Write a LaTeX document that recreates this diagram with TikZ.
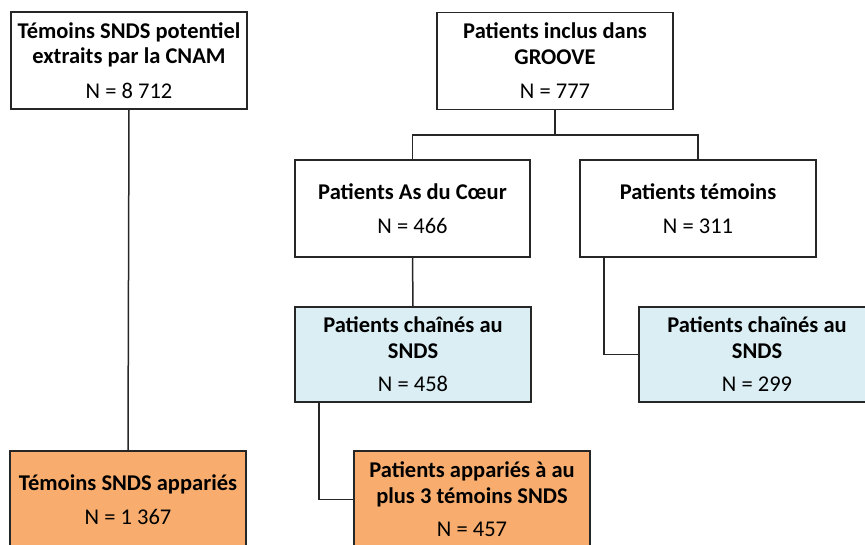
\documentclass[tikz,border=0pt]{standalone}
\usepackage{fontspec}
\setmainfont{Carlito}
\definecolor{lightblue}{HTML}{DBEEF4}
\definecolor{orangefill}{HTML}{F8AD6E}
\definecolor{edge}{HTML}{262626}
\begin{document}
\begin{tikzpicture}[x=1pt,y=-1pt,
  box/.style={draw=edge,line width=1.5pt,rectangle,minimum width=236pt,minimum height=97pt,inner sep=0pt,align=center,font=\fontsize{22.5}{25.5}\selectfont},
  bluebox/.style={box,fill=lightblue,minimum height=95pt},
  orangebox/.style={box,fill=orangefill},
  link/.style={draw=edge,line width=1.5pt}]
\useasboundingbox (0,0) rectangle (865,544);
\node[box] (A) at (129,60.5) {\textbf{Témoins SNDS potentiel}\\\textbf{extraits par la CNAM}\\[9pt]N = 8 712};
\node[box] (B) at (555,61) {\textbf{Patients inclus dans}\\\textbf{GROOVE}\\[9pt]N = 777};
\node[box,minimum width=235pt] (C) at (412.5,208.5) {\textbf{Patients As du Cœur}\\[9pt]N = 466};
\node[box] (D) at (698,208.5) {\textbf{Patients témoins}\\[9pt]N = 311};
\node[bluebox] (E) at (413,354.5) {\textbf{Patients chaînés au}\\\textbf{SNDS}\\[8pt]N = 458};
\node[bluebox] (G) at (757,354.5) {\textbf{Patients chaînés au}\\\textbf{SNDS}\\[8pt]N = 299};
\node[orangebox] (F) at (128,499.5) {\textbf{Témoins SNDS appariés}\\[8pt]N = 1 367};
\node[orangebox] (H) at (472,499.5) {\textbf{Patients appariés à au}\\\textbf{plus 3 témoins SNDS}\\[8pt]N = 457};
\coordinate (bus) at (0,135);
\draw[link] (A.south) -- (F.north);
\draw[link] (B.south) -- (B.south |- bus);
\draw[link] (C.north) -- (C.north |- bus) -- (D.north |- bus) -- (D.north);
\draw[link] (C.south) -- (E.north);
\draw[link] ([xshift=-94pt]E.south) |- (H.west);
\draw[link] ([xshift=-94pt]D.south) |- (G.west);
\end{tikzpicture}
\end{document}
